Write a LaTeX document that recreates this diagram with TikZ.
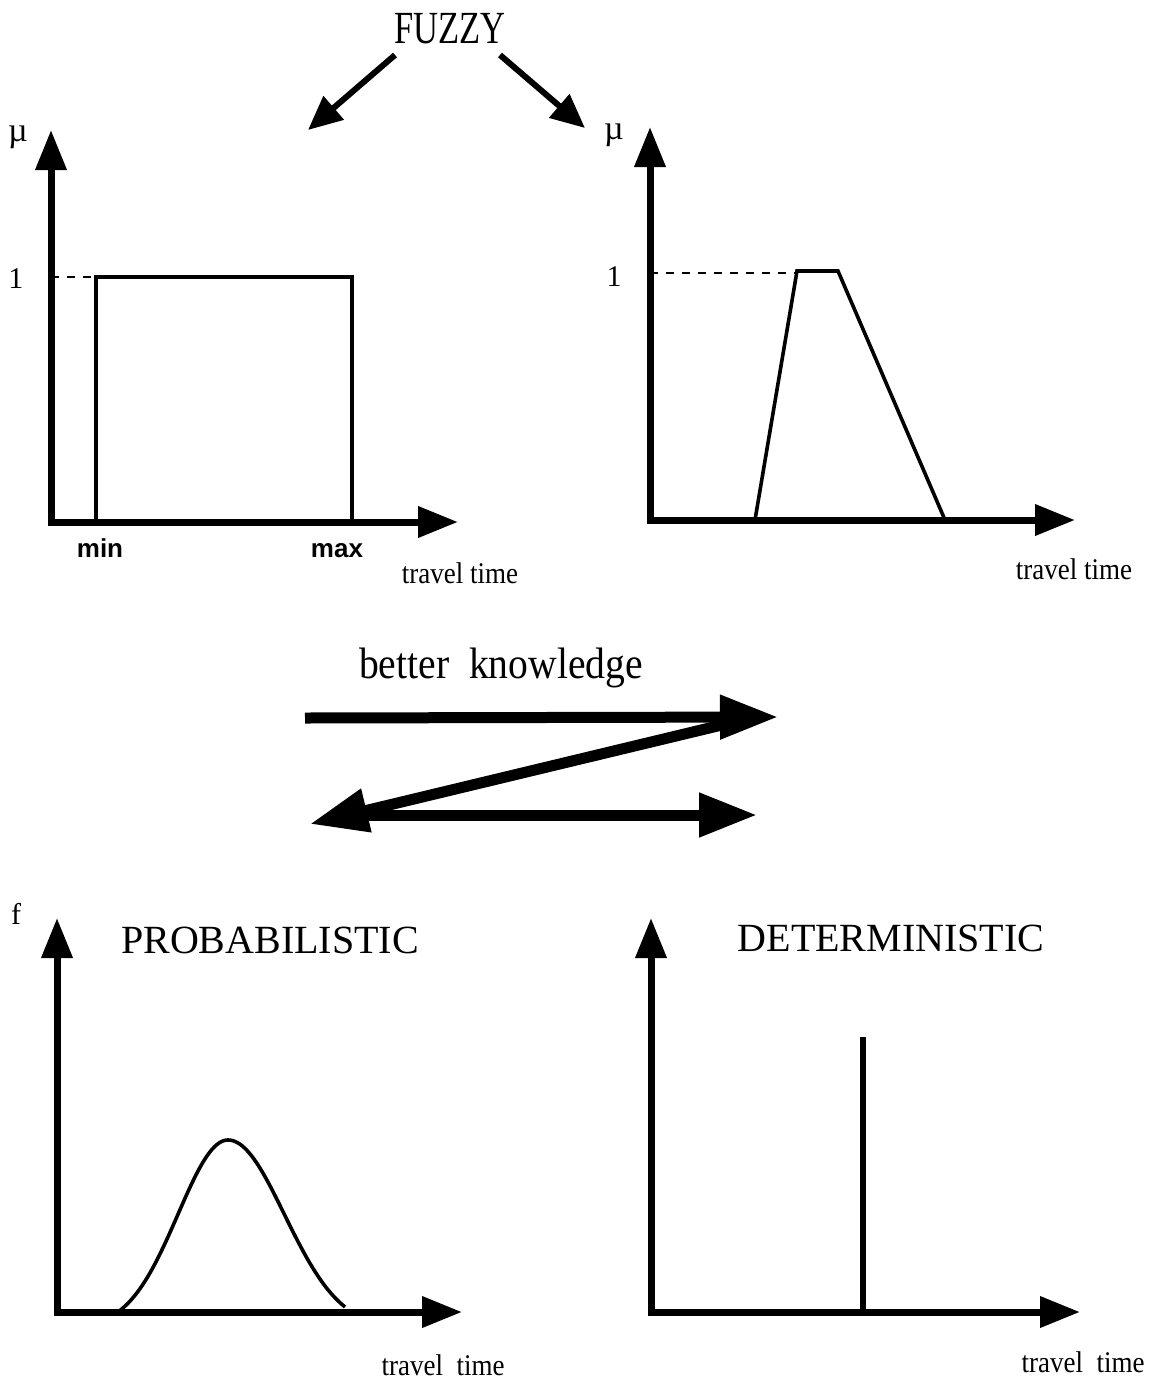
\documentclass[tikz,border=0pt]{standalone}
\usepackage{fontspec}
\setmainfont{Liberation Serif}
\newfontfamily\sansb{Liberation Sans}
\usetikzlibrary{arrows.meta}
\begin{document}
\begin{tikzpicture}[x=0.5pt,y=-0.5pt,
  axis/.style={line width=3.5pt,line cap=rect,-{Triangle[length=20pt,width=15pt]}},
  graph/.style={line width=1.8pt,line join=miter},
  guide/.style={line width=1.2pt,dash pattern=on 4pt off 4pt},
  fz/.style={line width=3pt,-{Triangle[length=17pt,width=15pt]}},
  big/.style={line width=5.5pt,-{Triangle[length=29pt,width=21pt]}},
  lbl/.style={inner sep=0pt,font=\fontsize{15}{15}\selectfont},
  ttl/.style={inner sep=0pt,font=\fontsize{20}{20}\selectfont},
  tick/.style={inner sep=0pt,anchor=base,font=\sansb\bfseries\fontsize{13}{13}\selectfont}]
\useasboundingbox[fill=white] (0,0) rectangle (1150,1383);

% ---------- FUZZY title and arrows
\node[inner sep=0pt,font=\fontsize{23}{23}\selectfont] (fuzzy) at (450,29) {\scalebox{0.75}[1]{FUZZY}};
\coordinate (fl0) at (395,55); \coordinate (fl1) at (308,130);
\coordinate (fr0) at (500,55); \coordinate (fr1) at (585,128);
\draw[fz] (fl0) -- (fl1);
\draw[fz] (fr0) -- (fr1);

% ---------- top-left chart (rectangle)
\coordinate (o1) at (51,522); \coordinate (y1) at (51,130); \coordinate (x1) at (458,522);
\draw[axis] (o1) -- (y1);
\draw[axis] (o1) -- (x1);
\draw[graph] (96,522) -- (96,277) -- (352,277) -- (352,522);
\draw[guide] (51,277) -- (96,277);
\node[lbl,font=\fontsize{17}{17}\selectfont] (mu1) at (18,137) {µ};
\node[lbl] (one1) at (16,279) {1};
\node[tick] (min) at (100,557) {min};
\node[tick] (max) at (337,557) {max};
\node[lbl] (tt1) at (460,573) {\scalebox{0.9}[1]{travel time}};

% ---------- top-right chart (trapezoid)
\coordinate (o2) at (650,520); \coordinate (y2) at (650,127); \coordinate (x2) at (1075,520);
\draw[axis] (o2) -- (y2);
\draw[axis] (o2) -- (x2);
\draw[graph] (755,520) -- (797,271) -- (838,271) -- (945,520);
\draw[guide] (650,273) -- (797,273);
\node[lbl,font=\fontsize{17}{17}\selectfont] (mu2) at (614,135) {µ};
\node[lbl] (one2) at (614,277) {1};
\node[lbl] (tt2) at (1074,569) {\scalebox{0.9}[1]{travel time}};

% ---------- better knowledge
\node[inner sep=0pt,font=\fontsize{22}{22}\selectfont] (bk) at (501,668) {\scalebox{0.9}[1]{better\ \ knowledge}};
\coordinate (a1s) at (305,718); \coordinate (a1e) at (778,717);
\coordinate (a2s) at (726,724); \coordinate (a2e) at (310,824);
\coordinate (a3s) at (362,815); \coordinate (a3e) at (757,815);
\draw[big] (a1s) -- (a1e);
\draw[big] (a2s) -- (a2e);
\draw[big] (a3s) -- (a3e);

% ---------- bottom-left chart (probabilistic)
\coordinate (o3) at (57,1312); \coordinate (y3) at (57,918); \coordinate (x3) at (462,1312);
\draw[axis] (o3) -- (y3);
\draw[axis] (o3) -- (x3);
\draw[graph] plot[domain=118:228,samples=50,smooth] (\x,{1312-172*(exp(-((\x-228)*(\x-228))/5000)-0.0888)/0.9112})
  -- plot[domain=228:345,samples=50,smooth] (\x,{1312-172*(exp(-((\x-228)*(\x-228))/6342)-0.0888)/0.9112});
\node[lbl] (f) at (16,914) {f};
\node[ttl] (prob) at (270,940) {PROBABILISTIC};
\node[lbl] (tt3) at (443,1365) {\scalebox{0.9}[1]{travel\ \ time}};

% ---------- bottom-right chart (deterministic)
\coordinate (o4) at (651,1312); \coordinate (y4) at (651,918); \coordinate (x4) at (1080,1312);
\draw[axis] (o4) -- (y4);
\draw[axis] (o4) -- (x4);
\coordinate (sp0) at (863,1312); \coordinate (sp1) at (863,1037);
\draw[line width=3pt] (sp0) -- (sp1);
\node[ttl] (det) at (891,938) {DETERMINISTIC};
\node[lbl] (tt4) at (1083,1362) {\scalebox{0.9}[1]{travel\ \ time}};
\end{tikzpicture}
\end{document}
